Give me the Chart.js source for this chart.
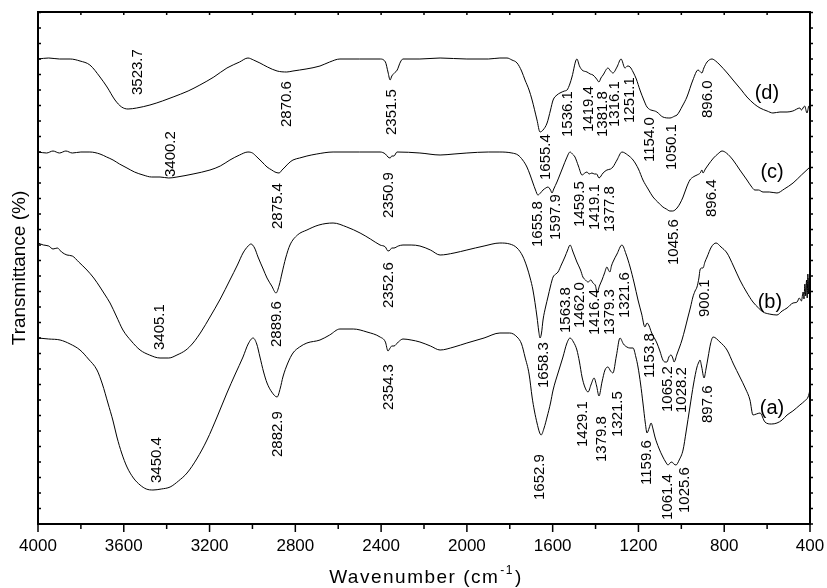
<!DOCTYPE html>
<html>
<head>
<meta charset="utf-8">
<script src="https://cdn.jsdelivr.net/npm/chart.js@4.4.1/dist/chart.umd.min.js"></script>
<style>
  html, body { margin: 0; padding: 0; background: #fff; }
  #wrap { width: 827px; height: 588px; }
</style>
</head>
<body>
<div id="wrap"><canvas id="ftir"></canvas></div>
<script>
'use strict';

// spectra: [wavenumber (cm-1), transmittance (a.u., curves offset)]
const curveA = [
  [4000,186],[3950,185],[3897,184],[3850,180],[3804,174],[3765,165],[3725,154],[3700,140],[3674,121],[3650,103],
  [3632,87],[3610,71],[3585,57],[3555,46],[3524,39],[3495,35],[3464,34],[3425,35],[3384,37],[3345,43],[3305,51],
  [3260,65],[3212,84],[3165,107],[3119,131],[3080,150],[3044,167],[3020,180],[2997,186],[2980,180],[2965,167],
  [2948,152],[2932,141],[2910,132],[2885,127],[2870,136],[2858,147],[2835,161],[2811,171],[2780,177],[2746,181],
  [2685,184],[2640,189],[2592,195],[2530,195],[2466,192],[2405,187],[2380,182],[2368,173],[2358,176],[2350,178],
  [2340,178],[2320,182],[2298,185],[2260,184],[2219,182],[2170,178],[2125,174],[2060,177],[2000,181],[1920,186],
  [1846,191],[1800,191],[1766,187],[1745,180],[1729,167],[1710,150],[1696,127],[1685,113],[1673,101],[1662,92],
  [1654,89],[1640,96],[1626,107],[1610,121],[1598,134],[1575,151],[1552,167],[1535,180],[1519,186],[1503,182],
  [1487,174],[1475,162],[1463,147],[1450,137],[1435,132],[1420,140],[1407,146],[1395,138],[1384,128],[1370,142],
  [1356,154],[1342,157],[1330,153],[1319,151],[1303,168],[1286,186],[1270,180],[1254,177],[1240,176],[1225,176],
  [1212,167],[1202,157],[1190,140],[1179,121],[1168,101],[1160,91],[1150,96],[1141,101],[1132,95],[1123,87],
  [1105,76],[1086,67],[1073,62],[1062,59],[1053,61],[1044,62],[1035,60],[1025,59],[1010,64],[992,74],[978,92],
  [960,117],[943,140],[927,157],[918,162],[913,164],[905,157],[894,146],[885,155],[875,167],[864,180],[852,187],
  [820,182],[787,174],[757,160],[727,147],[700,135],[680,124],[666,109],[650,110],[633,111],[610,102],[580,100],
  [554,101],[530,104],[507,109],[480,113],[447,119],[425,123],[409,127],[400,134]
];

const curveB = [
  [4000,281],[3975,279],[3950,278],[3930,275],[3910,276],[3890,272],[3865,269],[3840,268],[3810,262],[3772,254],
  [3740,246],[3711,237],[3690,230],[3664,221],[3635,208],[3604,194],[3565,183],[3524,174],[3480,169],[3431,166],
  [3390,166],[3352,169],[3310,174],[3277,181],[3240,192],[3198,207],[3150,225],[3105,244],[3070,259],[3044,271],
  [3020,278],[3007,280],[2990,276],[2974,267],[2950,255],[2932,246],[2910,238],[2890,231],[2875,239],[2862,251],
  [2845,266],[2825,279],[2790,289],[2746,294],[2690,299],[2624,301],[2560,297],[2498,291],[2450,285],[2405,279],
  [2380,277],[2368,273],[2358,274],[2350,276],[2340,276],[2320,278],[2298,279],[2260,279],[2219,278],[2170,274],
  [2125,269],[2060,271],[2000,274],[1920,278],[1846,281],[1800,280],[1766,276],[1740,268],[1720,257],[1705,246],
  [1692,234],[1673,207],[1665,193],[1659,186],[1652,191],[1645,204],[1632,218],[1622,227],[1610,238],[1598,247],
  [1585,250],[1575,252],[1560,259],[1543,267],[1530,274],[1519,279],[1505,272],[1487,262],[1470,254],[1459,247],
  [1447,244],[1435,242],[1422,244],[1412,241],[1400,238],[1393,231],[1382,238],[1370,244],[1358,251],[1347,257],
  [1340,254],[1333,252],[1326,258],[1319,262],[1300,270],[1277,279],[1258,270],[1239,257],[1220,241],[1202,224],
  [1185,210],[1170,197],[1160,201],[1150,198],[1140,192],[1114,181],[1100,173],[1086,164],[1076,162],[1067,162],
  [1058,167],[1048,169],[1040,166],[1034,162],[1020,170],[1008,177],[997,184],[983,195],[969,207],[957,217],
  [946,227],[936,233],[927,237],[918,246],[913,254],[905,256],[899,256],[890,262],[880,267],[860,277],[838,281],
  [815,277],[787,271],[757,258],[727,244],[696,232],[666,222],[640,216],[619,212],[590,210],[554,209],[530,213],
  [507,216],[479,221],[460,222],[450,226],[440,223],[432,232],[428,225],[424,240],[420,228],[416,244],[413,226],
  [410,250],[407,230],[404,246],[402,236],[400,240]
];

const curveC = [
  [4000,372],[3960,371],[3930,373],[3900,371],[3870,373],[3840,371],[3800,372],[3758,372],[3711,370],[3680,367],
  [3650,364],[3620,360],[3585,356],[3550,352],[3510,349],[3470,347],[3431,347],[3390,346],[3352,347],[3277,350],
  [3198,354],[3150,358],[3105,364],[3060,369],[3021,372],[3000,371],[2979,367],[2955,362],[2932,357],[2910,354],
  [2895,352],[2876,351],[2862,354],[2848,357],[2830,361],[2811,364],[2780,366],[2746,368],[2700,370],[2624,372],
  [2500,372],[2405,372],[2380,370],[2368,367],[2358,366],[2350,368],[2340,368],[2326,372],[2219,371],[2125,369],
  [2060,370],[2000,371],[1900,372],[1846,372],[1790,371],[1762,369],[1740,364],[1720,357],[1705,349],[1692,341],
  [1680,334],[1669,329],[1657,331],[1645,334],[1632,336],[1622,337],[1610,334],[1603,331],[1595,335],[1580,342],
  [1565,350],[1552,357],[1535,366],[1519,372],[1508,370],[1496,367],[1480,358],[1463,349],[1450,351],[1440,352],
  [1430,350],[1417,351],[1405,350],[1395,350],[1384,346],[1365,351],[1347,354],[1330,355],[1319,357],[1300,364],
  [1277,372],[1250,369],[1225,364],[1200,355],[1179,344],[1155,335],[1132,327],[1110,322],[1086,317],[1070,315],
  [1053,313],[1040,313],[1020,316],[1005,321],[992,327],[975,337],[960,344],[945,347],[927,349],[912,351],
  [904,354],[899,351],[888,355],[875,359],[850,366],[830,370],[810,373],[790,371],[759,364],[727,354],[694,344],
  [675,338],[657,334],[640,334],[619,332],[590,332],[554,331],[520,335],[479,341],[440,349],[400,357]
];

const curveD = [
  [4000,465],[3950,466],[3900,465],[3850,465],[3804,463],[3758,459],[3711,447],[3678,437],[3641,424],[3610,417],
  [3580,415],[3540,416],[3478,419],[3420,423],[3370,427],[3300,433],[3245,439],[3180,447],[3119,456],[3060,462],
  [3021,466],[2995,464],[2965,461],[2930,457],[2885,453],[2840,452],[2811,453],[2750,455],[2685,458],[2640,462],
  [2592,465],[2500,465],[2405,465],[2380,462],[2368,452],[2358,444],[2350,448],[2338,451],[2325,454],[2310,462],
  [2298,465],[2219,465],[2125,466],[2000,465],[1900,465],[1846,466],[1813,466],[1790,464],[1766,461],[1745,453],
  [1729,444],[1710,434],[1696,424],[1673,404],[1659,392],[1645,394],[1626,401],[1610,414],[1598,424],[1580,429],
  [1566,431],[1545,433],[1533,434],[1520,440],[1510,447],[1487,465],[1475,458],[1463,454],[1440,452],[1425,450],
  [1412,449],[1395,445],[1384,442],[1375,446],[1365,449],[1342,456],[1330,453],[1319,451],[1300,457],[1281,465],
  [1263,456],[1250,458],[1239,457],[1225,452],[1210,445],[1193,434],[1175,424],[1160,417],[1114,412],[1086,407],
  [1053,406],[1030,408],[1020,409],[995,418],[974,427],[946,444],[922,454],[904,451],[895,456],[880,462],[857,465],
  [840,463],[820,459],[790,452],[759,444],[720,434],[694,427],[660,420],[633,416],[600,413],[573,411],[540,412],
  [507,412],[480,413],[447,416],[440,414],[425,418],[414,411],[405,418],[400,416]
];

const seriesNames = ['(a)', '(b)', '(c)', '(d)'];

// peak wavenumbers written beside each spectrum
const peaksA = ['3450.4', '2882.9', '2354.3', '1652.9', '1429.1', '1379.8', '1321.5', '1159.6', '1061.4', '1025.6', '897.6'];
const peaksB = ['3405.1', '2889.6', '2352.6', '1658.3', '1563.8', '1462.0', '1416.4', '1379.3', '1321.6', '1153.8', '1065.2', '1028.2', '900.1'];
const peaksC = ['3400.2', '2875.4', '2350.9', '1655.8', '1597.9', '1459.5', '1419.1', '1377.8', '1045.6', '896.4'];
const peaksD = ['3523.7', '2870.6', '2351.5', '1655.4', '1536.1', '1419.4', '1381.8', '1316.1', '1251.1', '1154.0', '1050.1', '896.0'];

// where each label starts (x = wavenumber, y = transmittance), text runs upward
const peakPosA = [[3445,41],[2881,67],[2363,114],[1659,24],[1459,77],[1370,62],[1295,87],[1160,39],[1062,4],[983,11],[876,101]];
const peakPosB = [[3431,174],[2885,177],[2363,216],[1640,136],[1538,191],[1473,196],[1403,189],[1333,189],[1263,206],[1146,146],[1062,112],[997,111],[890,207]];
const peakPosC = [[3380,347],[2881,295],[2363,306],[1668,277],[1584,284],[1473,297],[1403,294],[1333,292],[1034,259],[857,307]];
const peakPosD = [[3534,429],[2839,397],[2349,389],[1631,344],[1528,387],[1431,392],[1365,387],[1309,397],[1239,401],[1146,362],[1044,354],[876,406]];
const namePos = [[577,116],[587,222],[577,352],[601,431]];

const FONT = '"Liberation Sans", Arial, Helvetica, sans-serif';
const Y_TICK_STEP = 15.5;

function toPoints(pairs) {
  return pairs.map(function(p) { return {x: p[0], y: p[1]}; });
}

const framePlugin = {
  id: 'frame',
  afterDatasetsDraw(chart) {
    const ctx = chart.ctx;
    const a = chart.chartArea;
    const x = chart.scales.x;
    const y = chart.scales.y;
    ctx.save();
    ctx.strokeStyle = '#000';
    ctx.lineWidth = 2;
    ctx.strokeRect(a.left, a.top, a.right - a.left, a.bottom - a.top);

    ctx.lineWidth = 1.5;
    for (let w = x.min; w <= x.max; w += 200) {
      const px = x.getPixelForValue(w);
      const major = w % 400 === 0;
      ctx.beginPath();
      ctx.moveTo(px, a.bottom);
      ctx.lineTo(px, a.bottom + (major ? 8 : 5));
      ctx.moveTo(px, a.top);
      ctx.lineTo(px, a.top + 3);
      ctx.stroke();
    }
    for (let v = y.min; v <= y.max; v += Y_TICK_STEP) {
      const py = y.getPixelForValue(v);
      ctx.beginPath();
      ctx.moveTo(a.left, py);
      ctx.lineTo(a.left + 3, py);
      ctx.moveTo(a.right, py);
      ctx.lineTo(a.right + 3, py);
      ctx.stroke();
    }
    ctx.restore();
  }
};

function drawVertical(ctx, text, px, py, align) {
  ctx.save();
  ctx.translate(px, py);
  ctx.rotate(-Math.PI / 2);
  ctx.textAlign = align;
  ctx.textBaseline = 'middle';
  ctx.fillText(text, 0, 0);
  ctx.restore();
}

const labelPlugin = {
  id: 'peakLabels',
  afterDraw(chart) {
    const ctx = chart.ctx;
    const x = chart.scales.x;
    const y = chart.scales.y;
    const a = chart.chartArea;
    ctx.save();
    ctx.fillStyle = '#000';

    ctx.font = '15px ' + FONT;
    const groups = [[peaksA, peakPosA], [peaksB, peakPosB], [peaksC, peakPosC], [peaksD, peakPosD]];
    for (let g of groups) {
      g[0].forEach(function(text, i) {
        const pos = g[1][i];
        drawVertical(ctx, text, x.getPixelForValue(pos[0]), y.getPixelForValue(pos[1]), 'left');
      });
    }

    ctx.font = '20px ' + FONT;
    ctx.textAlign = 'center';
    ctx.textBaseline = 'middle';
    seriesNames.forEach(function(name, i) {
      ctx.fillText(name, x.getPixelForValue(namePos[i][0]), y.getPixelForValue(namePos[i][1]));
    });

    // y axis title
    ctx.font = '19px ' + FONT;
    drawVertical(ctx, 'Transmittance (%)', 20, (a.top + a.bottom) / 2, 'center');

    // x axis title with superscript
    ctx.letterSpacing = '1.5px';
    ctx.font = '19px ' + FONT;
    const main = 'Wavenumber (cm';
    const close = ')';
    const wMain = ctx.measureText(main).width;
    const wClose = ctx.measureText(close).width;
    ctx.font = '12px ' + FONT;
    const sup = '-1';
    const wSup = ctx.measureText(sup).width;
    const total = wMain + wSup + wClose + 2;
    let sx = (a.left + a.right) / 2 - total / 2 + 2;
    const base = 583;
    ctx.textAlign = 'left';
    ctx.textBaseline = 'alphabetic';
    ctx.font = '19px ' + FONT;
    ctx.fillText(main, sx, base);
    sx += wMain + 1;
    ctx.font = '12px ' + FONT;
    ctx.fillText(sup, sx, base - 9);
    sx += wSup + 1;
    ctx.font = '19px ' + FONT;
    ctx.fillText(close, sx, base);
    ctx.restore();
  }
};

const datasets = [curveA, curveB, curveC, curveD].map(function(curve, i) {
  return {
    label: seriesNames[i],
    data: toPoints(curve),
    borderColor: '#000',
    borderWidth: 1,
    pointRadius: 0,
    fill: false,
    cubicInterpolationMode: 'monotone'
  };
});

const ctx = document.getElementById('ftir').getContext('2d');
new Chart(ctx, {
  type: 'line',
  data: {datasets: datasets},
  options: {
    responsive: true,
    maintainAspectRatio: false,
    animation: false,
    layout: {padding: {left: 38, right: 17, top: 12, bottom: 0}},
    plugins: {
      legend: {display: false},
      tooltip: {enabled: false}
    },
    scales: {
      x: {
        type: 'linear',
        reverse: true,
        min: 400,
        max: 4000,
        grid: {display: false},
        border: {display: false},
        ticks: {
          stepSize: 400,
          color: '#000',
          padding: 4,
          maxRotation: 0,
          autoSkip: false,
          font: {size: 17, family: FONT},
          callback: function(value) { return String(value); }
        },
        afterFit: function(scale) {
          scale.height = 64;
          scale.paddingLeft = 0;
          scale.paddingRight = 0;
        }
      },
      y: {
        display: false,
        min: 0,
        max: 512
      }
    }
  },
  plugins: [framePlugin, labelPlugin]
});
</script>
</body>
</html>
